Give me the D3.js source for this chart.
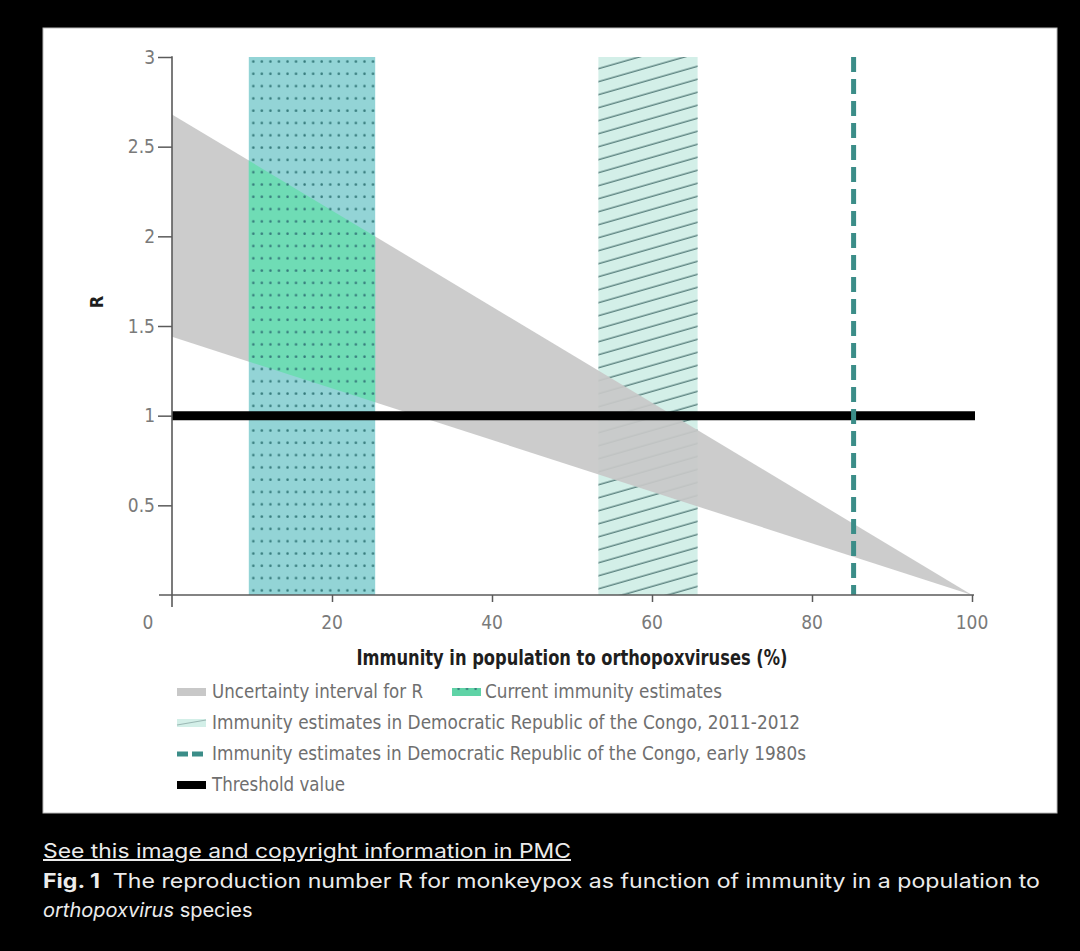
<!DOCTYPE html>
<html>
<head>
<meta charset="utf-8">
<script src="https://cdn.jsdelivr.net/npm/d3@7"></script>
<style>
  html, body { margin: 0; padding: 0; background: #000; }
  svg { display: block; }
</style>
</head>
<body>
<script>
// ---------- data ----------
const xTicks = [0, 20, 40, 60, 80, 100];
const yTicks = [0.5, 1, 1.5, 2, 2.5, 3];
const yTickLabels = ["0.5", "1", "1.5", "2", "2.5", "3"];
// uncertainty interval for R at immunity 0 % and 100 %
const bandImmunity = [0, 100];
const bandUpper = [2.68, 0];
const bandLower = [1.44, 0];
const currentImmunity = [9.6, 25.4];      // dotted band (%)
const drc2011Immunity = [53.3, 65.7];     // hatched band (%)
const drc1980Immunity = 85.2;             // dashed line (%)
const thresholdR = 1;
const rMax = 3;
const legendRow1 = ["Uncertainty interval for R", "Current immunity estimates"];
const legendRows = [
  "Immunity estimates in Democratic Republic of the Congo, 2011-2012",
  "Immunity estimates in Democratic Republic of the Congo, early 1980s",
  "Threshold value"
];
const xTitle = "Immunity in population to orthopoxviruses (%)";
const yTitle = "R";

// ---------- layout ----------
const W = 1080, H = 951;
const narrow = "'Liberation Sans Narrow', 'DejaVu Sans Condensed', 'Roboto', sans-serif";
const capFont = "Inter, 'Helvetica Neue', Roboto, sans-serif";

const svg = d3.select("body").append("svg").attr("width", W).attr("height", H);
svg.append("rect").attr("width", W).attr("height", H).attr("fill", "#000");
svg.append("rect").attr("x", 43).attr("y", 28).attr("width", 1014).attr("height", 785)
  .attr("fill", "#fff").attr("stroke", "#bbb").attr("stroke-width", 1);

const x = d3.scaleLinear().domain([0, 100]).range([172, 972]);
const y = d3.scaleLinear().domain([0, 3]).range([595, 57]);

const defs = svg.append("defs");
// dots pattern
const dotPat = defs.append("pattern").attr("id", "dots")
  .attr("patternUnits", "userSpaceOnUse")
  .attr("x", x(currentImmunity[0]) + 2).attr("y", y(rMax) + 2)
  .attr("width", 8.55).attr("height", 12.3);
dotPat.append("circle").attr("cx", 2.5).attr("cy", 2.5).attr("r", 1.25).attr("fill", "#357a7b");
// hatch pattern
const hatchPat = defs.append("pattern").attr("id", "hatch")
  .attr("patternUnits", "userSpaceOnUse")
  .attr("width", 40).attr("height", 12.5)
  .attr("patternTransform", "rotate(-16)");
hatchPat.append("line").attr("x1", 0).attr("x2", 40).attr("y1", 6).attr("y2", 6)
  .attr("stroke", "#5f8683").attr("stroke-width", 1.3);

// clip for current immunity rect
defs.append("clipPath").attr("id", "curClip").append("rect")
  .attr("x", x(currentImmunity[0])).attr("y", y(rMax))
  .attr("width", x(currentImmunity[1]) - x(currentImmunity[0]))
  .attr("height", y(0) - y(rMax));

const bandPts = bandImmunity.map((p, i) => [x(p), y(bandUpper[i])])
  .concat(bandImmunity.slice().reverse().map((p, i) => [x(p), y(bandLower[bandImmunity.length - 1 - i])]));
const bandPath = d3.line()(bandPts) + "Z";

const g = svg.append("g");

// hatched DRC 2011-2012 rect
const hx = x(drc2011Immunity[0]), hw = x(drc2011Immunity[1]) - x(drc2011Immunity[0]);
g.append("rect").attr("x", hx).attr("y", y(rMax)).attr("width", hw).attr("height", y(0) - y(rMax))
  .attr("fill", "#d3efe8");
g.append("rect").attr("x", hx).attr("y", y(rMax)).attr("width", hw).attr("height", y(0) - y(rMax))
  .attr("fill", "url(#hatch)");

// gray band
g.append("path").attr("d", bandPath).attr("fill", "#c8c8c8").attr("fill-opacity", 0.92);

// current immunity dotted rect
const cx0 = x(currentImmunity[0]), cw = x(currentImmunity[1]) - x(currentImmunity[0]);
g.append("rect").attr("x", cx0).attr("y", y(rMax)).attr("width", cw).attr("height", y(0) - y(rMax))
  .attr("fill", "#93d4d6");
g.append("path").attr("d", bandPath).attr("fill", "#6fdcb5").attr("clip-path", "url(#curClip)");
g.append("rect").attr("x", cx0).attr("y", y(rMax)).attr("width", cw).attr("height", y(0) - y(rMax))
  .attr("fill", "url(#dots)");

// threshold
g.append("line").attr("x1", x(0)).attr("x2", x(100) + 3)
  .attr("y1", y(thresholdR)).attr("y2", y(thresholdR))
  .attr("stroke", "#000").attr("stroke-width", 9);

// dashed 1980s line
g.append("line").attr("x1", x(drc1980Immunity)).attr("x2", x(drc1980Immunity))
  .attr("y1", y(rMax)).attr("y2", y(0))
  .attr("stroke", "#3b8d88").attr("stroke-width", 5)
  .attr("stroke-dasharray", "15 7");

// axes
const axisColor = "#5a5a5a";
const xAxis = svg.append("g").attr("transform", `translate(0,${y(0)})`)
  .call(d3.axisBottom(x).tickValues(xTicks.filter(d => d > 0)).tickSize(7).tickFormat(""));
xAxis.select(".domain").remove();
xAxis.selectAll("line").attr("stroke", axisColor).attr("stroke-width", 1.5);
svg.append("line").attr("x1", x(0) - 13).attr("x2", x(100) + 2).attr("y1", y(0)).attr("y2", y(0))
  .attr("stroke", axisColor).attr("stroke-width", 1.6);

const yAxis = svg.append("g").attr("transform", `translate(${x(0)},0)`)
  .call(d3.axisLeft(y).tickValues(yTicks).tickSize(14).tickFormat(""));
yAxis.select(".domain").remove();
yAxis.selectAll("line").attr("stroke", axisColor).attr("stroke-width", 1.5);
svg.append("line").attr("x1", x(0)).attr("x2", x(0)).attr("y1", y(rMax) - 0.7).attr("y2", y(0) + 12)
  .attr("stroke", axisColor).attr("stroke-width", 1.6);

// tick labels
svg.append("g").selectAll("text").data(xTicks).join("text")
  .attr("x", d => d === 0 ? x(0) - 24 : x(d))
  .attr("y", y(0) + 34)
  .attr("text-anchor", "middle")
  .attr("font-family", narrow).attr("font-size", 19).attr("fill", "#7a7a7a")
  .text(d => d);
svg.append("g").selectAll("text").data(yTicks).join("text")
  .attr("x", x(0) - 17)
  .attr("y", d => y(d) + 6.5)
  .attr("text-anchor", "end")
  .attr("font-family", narrow).attr("font-size", 19).attr("fill", "#7a7a7a")
  .text((d, i) => yTickLabels[i]);

// axis titles
svg.append("text").attr("x", (x(0) + x(100)) / 2).attr("y", 665)
  .attr("text-anchor", "middle")
  .attr("font-family", narrow).attr("font-weight", "bold").attr("font-size", 21).attr("fill", "#1e1e1e")
  .attr("textLength", 431).attr("lengthAdjust", "spacingAndGlyphs")
  .text(xTitle);
svg.append("text").attr("transform", "translate(103,302) rotate(-90)")
  .attr("text-anchor", "middle")
  .attr("font-family", narrow).attr("font-weight", "bold").attr("font-size", 18).attr("fill", "#1e1e1e")
  .text(yTitle);

// legend
const lg = svg.append("g");
const legColor = "#6f6f6f";
function legText(tx, ty, str, len) {
  lg.append("text").attr("x", tx).attr("y", ty)
    .attr("font-family", narrow).attr("font-size", 19).attr("fill", legColor)
    .attr("textLength", len).attr("lengthAdjust", "spacingAndGlyphs").text(str);
}
const rowY = [692, 723, 754, 785];
// row 1
lg.append("rect").attr("x", 177).attr("y", rowY[0] - 4).attr("width", 29).attr("height", 8).attr("fill", "#c8c8c8");
legText(212, rowY[0] + 6, legendRow1[0], 211);
lg.append("rect").attr("x", 452).attr("y", rowY[0] - 4).attr("width", 29).attr("height", 8).attr("fill", "#5fd3a6");
lg.append("rect").attr("x", 452).attr("y", rowY[0] - 4).attr("width", 29).attr("height", 8).attr("fill", "url(#dots)");
legText(485, rowY[0] + 6, legendRow1[1], 237);
// row 2 hatched swatch
lg.append("rect").attr("x", 177).attr("y", rowY[1] - 4).attr("width", 29).attr("height", 8).attr("fill", "#d3efe8");
lg.append("line").attr("x1", 177).attr("x2", 206).attr("y1", rowY[1] + 2).attr("y2", rowY[1] - 3)
  .attr("stroke", "#9bb8b4").attr("stroke-width", 1.2);
legText(212, rowY[1] + 6, legendRows[0], 588);
// row 3 dashed swatch
lg.append("line").attr("x1", 177).attr("x2", 206).attr("y1", rowY[2]).attr("y2", rowY[2])
  .attr("stroke", "#3b8d88").attr("stroke-width", 5).attr("stroke-dasharray", "11 4");
legText(212, rowY[2] + 6, legendRows[1], 594);
// row 4 threshold swatch
lg.append("rect").attr("x", 177).attr("y", rowY[3] - 4).attr("width", 29).attr("height", 8).attr("fill", "#000");
legText(212, rowY[3] + 6, legendRows[2], 133);

// caption
const cap = svg.append("g").attr("font-family", capFont).attr("font-size", 20).attr("fill", "#ececec");
cap.append("text").attr("x", 43).attr("y", 858)
  .attr("text-decoration", "underline")
  .attr("textLength", 528).attr("lengthAdjust", "spacingAndGlyphs")
  .text("See this image and copyright information in PMC");
const l2 = cap.append("text").attr("x", 43).attr("y", 888)
  .attr("textLength", 997).attr("lengthAdjust", "spacingAndGlyphs");
l2.append("tspan").attr("font-weight", "bold").text("Fig. 1");
l2.append("tspan").text("\u00a0\u00a0The reproduction number R for monkeypox as function of immunity in a population to");
const l3 = cap.append("text").attr("x", 43).attr("y", 917);
l3.append("tspan").attr("font-style", "italic").text("orthopoxvirus");
l3.append("tspan").text(" species");
</script>
</body>
</html>
